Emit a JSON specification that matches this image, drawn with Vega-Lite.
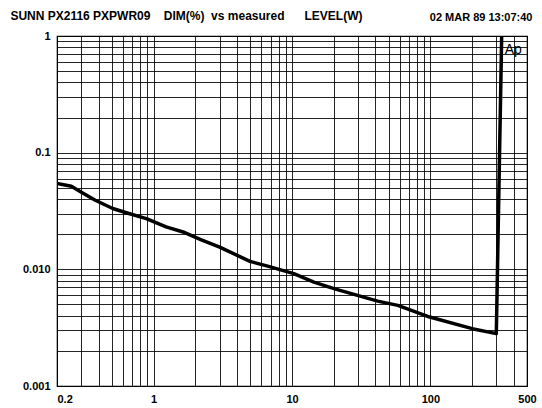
{
  "$schema": "https://vega.github.io/schema/vega-lite/v6.json",
  "width": 470,
  "height": 350,
  "autosize": {"type": "none"},
  "padding": {"left": 57, "top": 36, "right": 15, "bottom": 22},
  "background": "white",
  "config": {"view": {"stroke": "#000", "strokeWidth": 1.2}, "font": "Liberation Sans"},
  "title": {
    "text": "SUNN PX2116 PXPWR09\u00a0\u00a0\u00a0\u00a0DIM(%)\u00a0\u00a0vs measured\u00a0\u00a0\u00a0\u00a0\u00a0\u00a0LEVEL(W)",
    "anchor": "start",
    "frame": "group",
    "dx": -46.6,
    "dy": 21,
    "offset": 0,
    "fontSize": 12,
    "fontWeight": "bold",
    "font": "Liberation Sans",
    "color": "#000",
    "baseline": "alphabetic"
  },
  "layer": [
    {
      "data": {
        "values": [
          {"level": 0.2, "dim": 0.0544},
          {"level": 0.254, "dim": 0.0516},
          {"level": 0.298, "dim": 0.0461},
          {"level": 0.378, "dim": 0.0391},
          {"level": 0.506, "dim": 0.0332},
          {"level": 0.643, "dim": 0.0304},
          {"level": 0.885, "dim": 0.0272},
          {"level": 1.23, "dim": 0.0231},
          {"level": 1.63, "dim": 0.0209},
          {"level": 2.21, "dim": 0.0179},
          {"level": 3.0, "dim": 0.0155},
          {"level": 4.97, "dim": 0.0117},
          {"level": 6.77, "dim": 0.0106},
          {"level": 10.3, "dim": 0.00919},
          {"level": 14.4, "dim": 0.00778},
          {"level": 20.1, "dim": 0.00683},
          {"level": 41.6, "dim": 0.00534},
          {"level": 58.2, "dim": 0.00491},
          {"level": 99, "dim": 0.0039},
          {"level": 201, "dim": 0.0031},
          {"level": 300, "dim": 0.00281},
          {"level": 328, "dim": 1.0}
        ]
      },
      "mark": {"type": "line", "color": "#000", "strokeWidth": 3.5, "strokeJoin": "round", "clip": true},
      "encoding": {
        "x": {
          "field": "level",
          "type": "quantitative",
          "scale": {"type": "log", "domain": [0.2, 500], "nice": false, "zero": false},
          "axis": {
            "orient": "bottom",
            "values": [0.2, 0.3, 0.4, 0.5, 0.6, 0.7, 0.8, 0.9, 1, 2, 3, 4, 5, 6, 7, 8, 9, 10, 20, 30, 40, 50, 60, 70, 80, 90, 100, 200, 300, 400, 500],
            "format": "~g",
            "labelExpr": "datum.value == 0.2 || datum.value == 1 || datum.value == 10 || datum.value == 100 || datum.value == 500 ? datum.label : ''",
            "grid": true,
            "gridColor": "#000",
            "gridWidth": 1,
            "gridOpacity": 0.85,
            "ticks": false,
            "domain": false,
            "title": null,
            "labelFont": "Liberation Sans",
            "labelFontSize": 11,
            "labelFontWeight": "bold",
            "labelColor": "#000",
            "labelPadding": 7,
            "labelOverlap": false,
            "labelFlush": false,
            "labelBound": false,
            "labelAlign": {"condition": {"test": "datum.value < 0.3", "value": "left"}, "value": "center"}
          }
        },
        "y": {
          "field": "dim",
          "type": "quantitative",
          "scale": {"type": "log", "domain": [0.001, 1], "nice": false, "zero": false},
          "axis": {
            "values": [0.001, 0.002, 0.003, 0.004, 0.005, 0.006, 0.007, 0.008, 0.009, 0.01, 0.02, 0.03, 0.04, 0.05, 0.06, 0.07, 0.08, 0.09, 0.1, 0.2, 0.3, 0.4, 0.5, 0.6, 0.7, 0.8, 0.9, 1],
            "labelExpr": "datum.value == 1 ? '1' : datum.value == 0.1 ? '0.1' : datum.value == 0.01 ? '0.010' : datum.value == 0.001 ? '0.001' : ''",
            "grid": true,
            "gridColor": "#000",
            "gridWidth": 1,
            "gridOpacity": 0.85,
            "ticks": false,
            "domain": false,
            "title": null,
            "labelFont": "Liberation Sans",
            "labelFontSize": 11,
            "labelFontWeight": "bold",
            "labelColor": "#000",
            "labelPadding": 7,
            "labelOverlap": false,
            "labelFlush": false,
            "labelBound": false
          }
        }
      }
    },
    {
      "data": {"values": [{"level": 345, "dim": 0.7, "label": "Ap"}]},
      "mark": {"type": "text", "align": "left", "baseline": "alphabetic", "fontSize": 14, "font": "Liberation Sans", "color": "#000"},
      "encoding": {
        "x": {
          "field": "level",
          "type": "quantitative",
          "axis": {
            "orient": "top",
            "labels": false,
            "ticks": false,
            "domain": false,
            "grid": false,
            "title": "02 MAR 89 13:07:40",
            "titleFontSize": 11,
            "titleFontWeight": "bold",
            "titleFont": "Liberation Sans",
            "titleColor": "#000",
            "titleAlign": "right",
            "titleAnchor": "end",
            "titleX": 475,
            "titleY": -16,
            "titleBaseline": "alphabetic"
          }
        },
        "y": {"field": "dim", "type": "quantitative"},
        "text": {"field": "label"}
      }
    }
  ],
  "resolve": {"axis": {"x": "independent"}}
}
